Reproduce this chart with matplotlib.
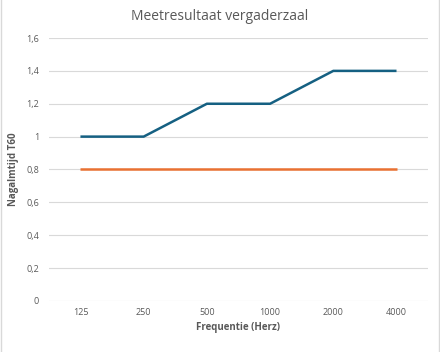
import numpy as np
import matplotlib.pyplot as plt
from matplotlib.patches import Rectangle

plt.rcParams['font.family'] = ['Open Sans', 'DejaVu Sans']

# data
frequencies = ['125', '250', '500', '1000', '2000', '4000']
nagalmtijd = [1.0, 1.0, 1.2, 1.2, 1.4, 1.4]
norm = [0.8, 0.8, 0.8, 0.8, 0.8, 0.8]
series_names = ['Huidig', 'Norm']
y_ticks = [0, 0.2, 0.4, 0.6, 0.8, 1.0, 1.2, 1.4, 1.6]
y_labels = ['0', '0,2', '0,4', '0,6', '0,8', '1', '1,2', '1,4', '1,6']

txt = '#595959'
fig = plt.figure(figsize=(4.4, 3.52), dpi=100)
ax = fig.add_axes([0.111, 0.145, 0.862, 0.747])

x = np.arange(len(frequencies))
ax.plot(x, nagalmtijd, color='#156082', lw=1.8, label=series_names[0], solid_capstyle='butt')
ax.plot(x, norm, color='#E97132', lw=1.8, label=series_names[1], solid_capstyle='butt')

ax.set_xlim(-0.5, len(frequencies) - 0.5)
ax.set_ylim(0, 1.6)
ax.set_xticks(x)
ax.set_xticklabels(frequencies)
ax.set_yticks(y_ticks)
ax.set_yticklabels(y_labels)
ax.tick_params(length=0, labelsize=6.5, colors=txt)
ax.tick_params(axis='x', pad=5)
ax.tick_params(axis='y', pad=7)
ax.grid(axis='y', color='#d9d9d9', lw=0.8)
ax.set_axisbelow(True)
for s in ax.spines.values():
    s.set_visible(False)

ax.set_xlabel('Frequentie (Herz)', fontsize=7, fontweight='bold', color=txt, labelpad=4)
ax.set_ylabel('Nagalmtijd T60', fontsize=7, fontweight='bold', color=txt, labelpad=5)
fig.text(0.5, 0.952, 'Meetresultaat vergaderzaal', ha='center', va='center', fontsize=10, color=txt)

# legend sits below the visible area, as in the reference (only its top shows)
fig.legend(loc='upper center', bbox_to_anchor=(0.5, 0.012), ncol=2, frameon=False,
           fontsize=6.5, labelcolor=txt, handlelength=2.5)

# grey chart border
fig.patches.append(Rectangle((0.002, -0.01), 0.995, 1.02, transform=fig.transFigure,
                             fill=False, edgecolor='#d9d9d9', lw=1))

fig.savefig('out.png', dpi=100)
